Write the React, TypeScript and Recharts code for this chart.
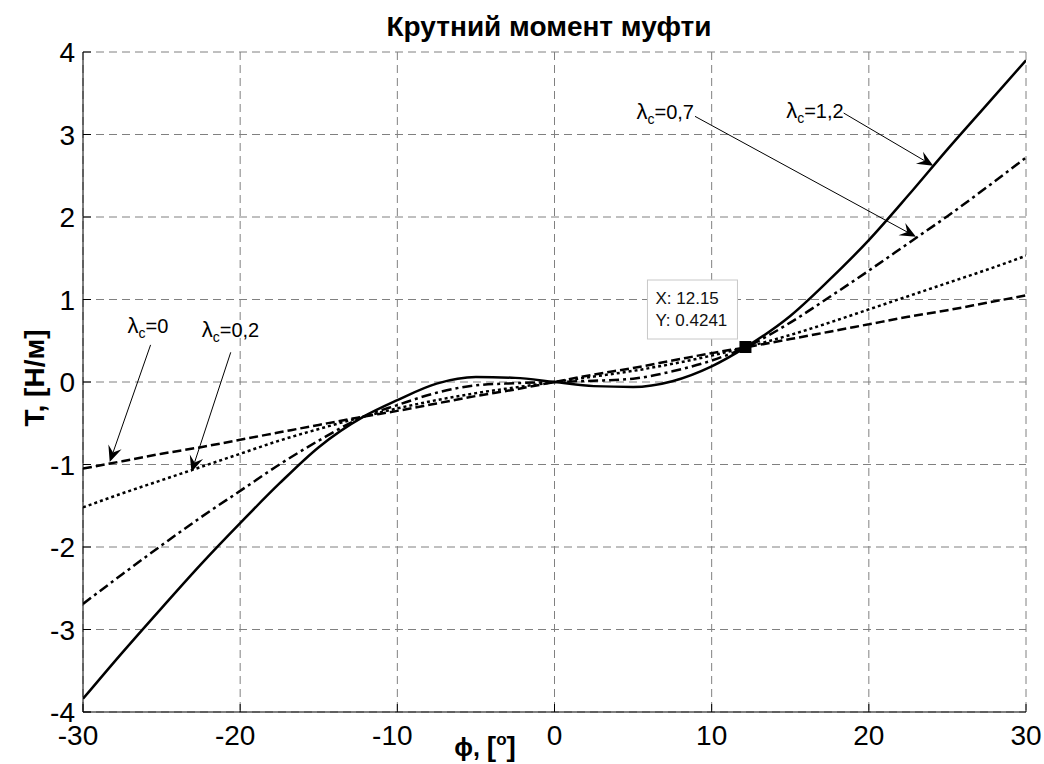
import React from 'react'
import {
  LineChart, Line, XAxis, YAxis, CartesianGrid, ReferenceLine, ReferenceDot,
} from 'recharts'

// angle of twist, degrees
const phi = [-30, -27.5, -25, -22.5, -20, -17.5, -15, -12.15, -10, -7.5, -5, -2.5, 0,
  2.5, 5, 7.5, 10, 12.15, 15, 17.5, 20, 22.5, 25, 27.5, 30]

// torque for each lambda_c
const torqueL0 = [-1.05, -0.96, -0.87, -0.79, -0.70, -0.61, -0.52, -0.42, -0.35, -0.26, -0.17, -0.09, 0,
  0.09, 0.17, 0.26, 0.35, 0.42, 0.52, 0.61, 0.70, 0.79, 0.87, 0.96, 1.05]
const torqueL02 = [-1.52, -1.35, -1.19, -1.03, -0.87, -0.71, -0.57, -0.42, -0.32, -0.22, -0.135, -0.066, 0,
  0.066, 0.135, 0.22, 0.32, 0.42, 0.57, 0.72, 0.88, 1.04, 1.20, 1.36, 1.53]
const torqueL07 = [-2.69, -2.33, -1.98, -1.64, -1.32, -1.00, -0.71, -0.42, -0.28, -0.13, -0.04, -0.015, 0,
  0.015, 0.04, 0.13, 0.26, 0.42, 0.72, 1.03, 1.35, 1.68, 2.01, 2.36, 2.72]
const torqueL12 = [-3.84, -3.28, -2.74, -2.21, -1.71, -1.23, -0.79, -0.42, -0.22, -0.02, 0.06, 0.05, 0,
  -0.05, -0.06, 0.01, 0.19, 0.42, 0.80, 1.24, 1.72, 2.26, 2.82, 3.36, 3.90]

const xTicks = [-30, -20, -10, 0, 10, 20, 30]
const yTicks = [-4, -3, -2, -1, 0, 1, 2, 3, 4]

// data cursor
const tipX = 12.15
const tipY = 0.4241

// annotation arrows: label, tail point, head point (data units)
const arrowLabels = ['0', '0,2', '0,7', '1,2']
const arrowTails = [[-25.7, 0.45], [-20.6, 0.36], [8.94, 3.22], [18.4, 3.26]]
const arrowHeads = [[-28.3, -0.97], [-23.1, -1.09], [23.0, 1.76], [24.1, 2.62]]

const rows = phi.map((p, i) => ({
  phi: p,
  l0: torqueL0[i],
  l02: torqueL02[i],
  l07: torqueL07[i],
  l12: torqueL12[i],
}))

const FONT = '"Liberation Sans", Arial, Helvetica, sans-serif'
const TICK_FS = 28

// label placement next to the arrow tail (px)
const labelPos = [
  { dx: -23, dy: -12, anchor: 'start' },
  { dx: -29, dy: -15, anchor: 'start' },
  { dx: -1, dy: 3, anchor: 'end' },
  { dx: 0, dy: 5, anchor: 'end' },
]

const BottomTick = (props: any) => {
  const { x, y, payload } = props
  const shift = payload.value < 0 ? -5 : 0
  return (
    <g>
      <line x1={x} y1={y} x2={x} y2={y - 8} stroke="#000" />
      <text x={x + shift} y={y + 33} textAnchor="middle" fontSize={TICK_FS} fontFamily={FONT} fill="#000">
        {payload.value}
      </text>
    </g>
  )
}

const TopTick = (props: any) => {
  const { x, y } = props
  return <line x1={x} y1={y} x2={x} y2={y + 8} stroke="#000" />
}

const LeftTick = (props: any) => {
  const { x, y, payload } = props
  return (
    <g>
      <line x1={x} y1={y} x2={x + 8} y2={y} stroke="#000" />
      <text x={x - 8} y={y + 10} textAnchor="end" fontSize={TICK_FS} fontFamily={FONT} fill="#000">
        {payload.value}
      </text>
    </g>
  )
}

const RightTick = (props: any) => {
  const { x, y } = props
  return <line x1={x} y1={y} x2={x - 8} y2={y} stroke="#000" />
}

function arrowShape(idx: number) {
  return (p: any) => {
    const { x1, y1, x2, y2 } = p
    const dx = x2 - x1
    const dy = y2 - y1
    const len = Math.sqrt(dx * dx + dy * dy) || 1
    const ux = dx / len
    const uy = dy / len
    const nx = -uy
    const ny = ux
    const L = 16
    const W = 7
    const N = 10
    const pts = [
      [x2, y2],
      [x2 - L * ux + W * nx, y2 - L * uy + W * ny],
      [x2 - N * ux, y2 - N * uy],
      [x2 - L * ux - W * nx, y2 - L * uy - W * ny],
    ].map((q) => q.join(',')).join(' ')
    const lp = labelPos[idx]
    return (
      <g>
        <line x1={x1} y1={y1} x2={x2 - N * ux} y2={y2 - N * uy} stroke="#000" strokeWidth={1} />
        <polygon points={pts} fill="#000" />
        <text x={x1 + lp.dx} y={y1 + lp.dy} textAnchor={lp.anchor} fontFamily={FONT} fontSize={20} fill="#000">
          <tspan fontSize={22}>λ</tspan><tspan fontSize={14} dy={5}>c</tspan><tspan fontSize={20} dy={-5}>={arrowLabels[idx]}</tspan>
        </text>
      </g>
    )
  }
}

const dataTipShape = (p: any) => {
  const { cx, cy } = p
  return (
    <g>
      <rect x={cx - 98} y={cy - 67} width={90} height={59} fill="#fff" stroke="#c8c8c8" strokeWidth={1} />
      <text x={cx - 90} y={cy - 43} fontFamily={FONT} fontSize={17} fill="#111">X: {tipX}</text>
      <text x={cx - 90} y={cy - 21} fontFamily={FONT} fontSize={17} fill="#111">Y: {tipY}</text>
      <rect x={cx - 6} y={cy - 6} width={12} height={12} fill="#000" />
    </g>
  )
}

export default function App() {
  return (
    <div style={{ position: 'absolute', left: 0, top: 0, width: 1044, height: 764, background: '#fff' }}>
      <LineChart
        width={1044}
        height={764}
        data={rows}
        margin={{ top: 52, right: 18, left: 0, bottom: 0 }}
      >
        <CartesianGrid stroke="#808080" strokeDasharray="8 5" strokeWidth={1} />
        <XAxis
          dataKey="phi"
          type="number"
          domain={[-30, 30]}
          ticks={xTicks}
          allowDataOverflow
          height={52}
          tickSize={0}
          tickMargin={0}
          tick={<BottomTick />}
          tickLine={false}
          axisLine={{ stroke: '#000', strokeWidth: 1 }}
        />
        <XAxis
          xAxisId="top"
          orientation="top"
          dataKey="phi"
          type="number"
          domain={[-30, 30]}
          ticks={xTicks}
          height={0}
          tickSize={0}
          tickMargin={0}
          tick={<TopTick />}
          tickLine={false}
          axisLine={{ stroke: '#000', strokeWidth: 1 }}
        />
        <YAxis
          type="number"
          domain={[-4, 4]}
          ticks={yTicks}
          allowDataOverflow
          width={83}
          tickSize={0}
          tickMargin={0}
          tick={<LeftTick />}
          tickLine={false}
          axisLine={{ stroke: '#000', strokeWidth: 1 }}
        />
        <YAxis
          yAxisId="right"
          orientation="right"
          type="number"
          domain={[-4, 4]}
          ticks={yTicks}
          width={0}
          tickSize={0}
          tickMargin={0}
          tick={<RightTick />}
          tickLine={false}
          axisLine={{ stroke: '#000', strokeWidth: 1 }}
        />
        <Line type="monotone" dataKey="l0" stroke="#000" strokeWidth={2.5} strokeDasharray="9 4" dot={false} isAnimationActive={false} />
        <Line type="monotone" dataKey="l02" stroke="#000" strokeWidth={2.5} strokeDasharray="3 3" dot={false} isAnimationActive={false} />
        <Line type="monotone" dataKey="l07" stroke="#000" strokeWidth={2.5} strokeDasharray="10 4 3 4" dot={false} isAnimationActive={false} />
        <Line type="monotone" dataKey="l12" stroke="#000" strokeWidth={2.5} dot={false} isAnimationActive={false} />
        {arrowLabels.map((lab, i) => (
          <ReferenceLine
            key={lab}
            segment={[
              { x: arrowTails[i][0], y: arrowTails[i][1] },
              { x: arrowHeads[i][0], y: arrowHeads[i][1] },
            ]}
            ifOverflow="visible"
            shape={arrowShape(i)}
          />
        ))}
        <ReferenceDot x={tipX} y={tipY} r={6} ifOverflow="visible" shape={dataTipShape} />
      </LineChart>
      <svg
        width={1044}
        height={764}
        style={{ position: 'absolute', left: 0, top: 0, pointerEvents: 'none' }}
      >
        <text x={549} y={36} textAnchor="middle" fontFamily={FONT} fontWeight="bold" fontSize={28} fill="#000">
          Крутний момент муфти
        </text>
        <text
          x={0}
          y={0}
          transform="translate(44,378) rotate(-90)"
          textAnchor="middle"
          fontFamily={FONT}
          fontWeight="bold"
          fontSize={28}
          fill="#000"
        >
          T, [Н/м]
        </text>
        <text x={485} y={756} textAnchor="middle" fontFamily={FONT} fontWeight="bold" fontSize={25} fill="#000">
          ϕ, <tspan fontSize={28}>[</tspan><tspan fontSize={17} dy={-11}>o</tspan><tspan fontSize={28} dy={11}>]</tspan>
        </text>
      </svg>
    </div>
  )
}
